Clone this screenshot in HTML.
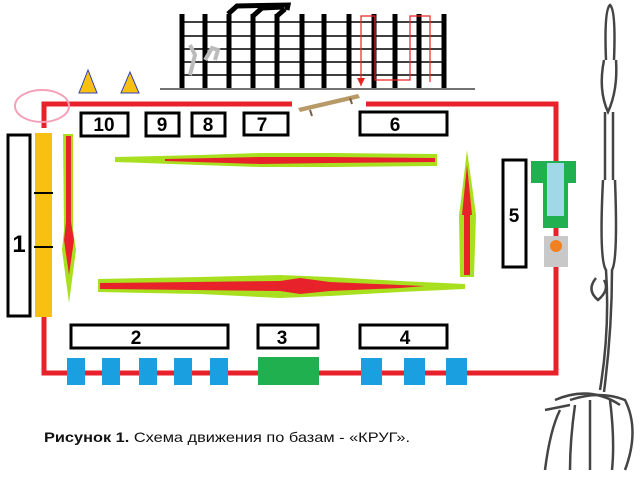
<!DOCTYPE html>
<html><head><meta charset="utf-8"><style>
body{margin:0;background:#fff;width:640px;height:480px;overflow:hidden}
</style></head><body>
<svg width="640" height="480" viewBox="0 0 640 480" xmlns="http://www.w3.org/2000/svg" font-family="Liberation Sans, sans-serif">
<!-- fence -->
<g stroke="#000">
<line x1="160" y1="89" x2="475" y2="89" stroke-width="1.5" stroke="#444"/>
<g stroke-width="1.5">
<line x1="180" y1="22" x2="445" y2="22"/><line x1="180" y1="36" x2="445" y2="36"/><line x1="180" y1="49" x2="445" y2="49"/><line x1="180" y1="62" x2="445" y2="62"/><line x1="180" y1="75" x2="445" y2="75"/>
</g>
<g stroke-width="5">
<line x1="182" y1="14" x2="182" y2="88"/><line x1="205" y1="14" x2="205" y2="88"/><line x1="229" y1="14" x2="229" y2="88"/><line x1="253" y1="14" x2="253" y2="88"/><line x1="277" y1="14" x2="277" y2="88"/><line x1="302" y1="14" x2="302" y2="88"/><line x1="324" y1="14" x2="324" y2="88"/><line x1="349" y1="14" x2="349" y2="88"/><line x1="374" y1="14" x2="374" y2="88"/><line x1="395" y1="14" x2="395" y2="88"/><line x1="419" y1="14" x2="419" y2="88"/><line x1="444" y1="14" x2="444" y2="88"/>
</g>
<g fill="none" stroke-width="5">
<polyline points="228,14 237,6 288,5 287,10"/>
<polyline points="253,16 262,8 283,7"/>
<polyline points="277,16 285,9"/>
</g>
</g>
<path d="M190 75 L195 55 L190 45 M205 60 L212 48 L218 50 L215 60" stroke="#bbb" stroke-width="4" fill="none"/>
<polyline points="361,86 361,16 375,16 375,80 410,80 410,16 430,16 430,82" fill="none" stroke="#e22" stroke-width="1.2"/>
<path d="M357 78 L365 78 L361 86 Z" fill="#e22"/>
<!-- bench -->
<path d="M298 108 L358 94 L360 98 L300 112 Z" fill="#b89a66"/>
<line x1="310" y1="110" x2="312" y2="116" stroke="#7a6040" stroke-width="2"/><line x1="350" y1="98" x2="352" y2="104" stroke="#7a6040" stroke-width="2"/>
<!-- red path -->
<g stroke="#e8222a" stroke-width="5" fill="none">
<polyline points="44,128 44,104 292,104"/>
<polyline points="366,104 556,104 556,373 44,373 44,316"/>
</g>
<ellipse cx="42" cy="106" rx="27" ry="16" fill="none" stroke="#f4a0b8" stroke-width="2"/>
<!-- triangles -->
<path d="M88 70 L79 93 L97 93 Z" fill="#f8c010" stroke="#3040c0" stroke-width="1"/>
<path d="M130 72 L121 93 L139 93 Z" fill="#f8c010" stroke="#3040c0" stroke-width="1"/>
<!-- boxes -->
<g fill="#fff" stroke="#000" stroke-width="3">
<rect x="8" y="135" width="22" height="181"/>
<rect x="81" y="113" width="47" height="23"/><rect x="146" y="113" width="33" height="23"/><rect x="192" y="113" width="33" height="23"/><rect x="244" y="113" width="44" height="22"/>
<rect x="360" y="112" width="87" height="23"/><rect x="503" y="160" width="23" height="107"/>
<rect x="71" y="325" width="157" height="23"/><rect x="258" y="325" width="60" height="23"/><rect x="360" y="325" width="87" height="23"/>
</g>
<g font-weight="bold" font-size="19" text-anchor="middle">
<text x="104" y="131">10</text><text x="162" y="131">9</text><text x="208" y="131">8</text><text x="262" y="131">7</text><text x="395" y="131">6</text><text x="514" y="222">5</text><text x="19" y="252" font-size="24">1</text><text x="136" y="344">2</text><text x="282" y="344">3</text><text x="405" y="344">4</text>
</g>
<!-- yellow bar -->
<rect x="35" y="133" width="17" height="184" fill="#f8c010"/>
<line x1="34" y1="193" x2="53" y2="193" stroke="#000" stroke-width="2"/><line x1="34" y1="247" x2="53" y2="247" stroke="#000" stroke-width="2"/>
<!-- station 5 -->
<rect x="531" y="161" width="45" height="22" fill="#20b050"/><rect x="543" y="170" width="25" height="58" fill="#20b050"/>
<rect x="547" y="163" width="17" height="53" fill="#a0d8e8"/>
<rect x="544" y="236" width="24" height="31" fill="#c8c8c8"/><circle cx="556" cy="246" r="6" fill="#f08020"/>
<!-- bottom blocks -->
<g fill="#1aa0e0">
<rect x="67" y="358" width="18" height="27"/><rect x="102" y="358" width="18" height="27"/><rect x="139" y="358" width="18" height="27"/><rect x="174" y="358" width="18" height="27"/><rect x="210" y="358" width="18" height="27"/>
<rect x="361" y="358" width="21" height="27"/><rect x="404" y="358" width="21" height="27"/><rect x="446" y="358" width="21" height="27"/>
</g>
<rect x="258" y="357" width="61" height="28" fill="#20b050"/>
<!-- arrows -->
<g fill="#a8e020">
<path d="M115 157 L200 155 L260 153 L330 153 L437 154 L437 166 L330 167 L260 167 L200 165 L115 162 Z"/>
<path d="M98 279 L200 277 L280 275 L330 277 L400 281 L465 284 L465 289 L400 292 L330 296 L280 298 L200 294 L98 292 Z"/>
<path d="M63 134 L73 134 L73 230 L76 250 L69 303 L62 250 L64 230 Z"/>
<path d="M467 150 L474 200 L476 215 L474 277 L460 277 L459 215 L461 200 Z"/>
</g>
<g fill="#e8222a">
<path d="M165 159 L260 157 L330 157 L435 158 L435 162 L330 163 L260 164 L165 161 Z"/>
<path d="M100 283 L280 281 L300 278 L330 282 L400 285 L425 286 L400 288 L330 291 L300 294 L280 291 L100 289 Z"/>
<path d="M66 136 L71 136 L71 222 L74 240 L69 275 L64 240 L66 222 Z"/>
<path d="M467 165 L472 215 L470 215 L470 275 L464 275 L464 215 L462 215 Z"/>
</g>
<!-- rope -->
<g fill="none" stroke="#444" stroke-width="2.5">
<path d="M606 60 Q604 10 610 5 Q616 10 614 60"/>
<path d="M604 60 Q598 90 608 112 Q618 90 616 60"/>
<path d="M605 112 L605 180 M613 112 L613 180"/>
<path d="M603 180 Q599 260 606 270 Q610 330 600 390 M615 180 Q618 260 612 270 Q612 330 604 392"/>
<path d="M596 278 Q586 290 598 300 Q610 290 604 280"/>
<path d="M570 400 Q600 390 625 400 Q640 430 625 470 M560 410 Q550 430 545 470 M575 405 Q570 440 570 470 M590 400 Q590 440 590 470 M610 400 Q615 440 612 470"/>
<path d="M545 410 L570 405 M555 400 Q590 385 620 405"/>
</g>
<text x="44" y="442" font-size="14" fill="#111" textLength="366" lengthAdjust="spacingAndGlyphs"><tspan font-weight="bold">Рисунок 1.</tspan> Схема движения по базам - «КРУГ».</text>
</svg>
</body></html>
